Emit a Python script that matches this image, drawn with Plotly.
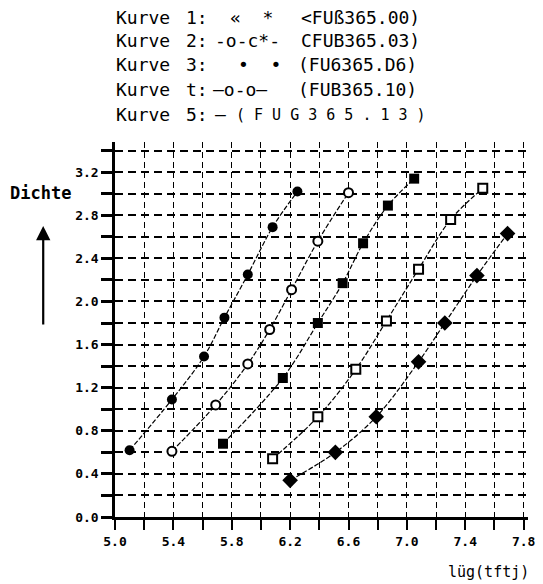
import plotly.graph_objects as go

# ---- data ----
x_k1 = [5.10, 5.39, 5.61, 5.75, 5.91, 6.08, 6.25]
y_k1 = [0.62, 1.09, 1.49, 1.85, 2.25, 2.69, 3.02]

x_k2 = [5.39, 5.69, 5.91, 6.06, 6.21, 6.39, 6.60]
y_k2 = [0.61, 1.04, 1.42, 1.74, 2.11, 2.56, 3.01]

x_k3 = [5.74, 6.15, 6.39, 6.56, 6.70, 6.87, 7.05]
y_k3 = [0.68, 1.29, 1.80, 2.17, 2.54, 2.89, 3.14]

x_k4 = [6.08, 6.39, 6.65, 6.86, 7.08, 7.30, 7.52]
y_k4 = [0.54, 0.93, 1.37, 1.82, 2.30, 2.76, 3.05]

x_k5 = [6.20, 6.51, 6.79, 7.08, 7.26, 7.48, 7.69]
y_k5 = [0.34, 0.60, 0.93, 1.44, 1.80, 2.24, 2.63]

legend_labels = ["Kurve", "Kurve", "Kurve", "Kurve", "Kurve"]
legend_nums = ["1:", "2:", "3:", "t:", "5:"]
legend_syms = ["«  *", "-o-c*-", "•  •", "—o-o—", "—"]
legend_codes = ["<FUß365.00)", "CFUB365.03)", "(FU6365.D6)", "(FUB365.10)",
                "( F U G 3 6 5 . 1 3 )"]

y_title = "Dichte"
x_title = "lüg(tftj)"

# ---- layout geometry ----
W, H = 543, 584
ML, MR, MT, MB = 115, 8, 142, 67
PW, PH = W - ML - MR, H - MT - MB


def px(xp, yp):
    return (xp - ML) / PW, (H - MB - yp) / PH


MONO = "DejaVu Sans Mono"

fig = go.Figure()

series = [
    (x_k1, y_k1, dict(symbol="circle", size=10, color="black"), "Kurve 1"),
    (x_k2, y_k2, dict(symbol="circle", size=9, color="white",
                      line=dict(color="black", width=2)), "Kurve 2"),
    (x_k3, y_k3, dict(symbol="square", size=10, color="black"), "Kurve 3"),
    (x_k4, y_k4, dict(symbol="square", size=9, color="white",
                      line=dict(color="black", width=2)), "Kurve 4"),
    (x_k5, y_k5, dict(symbol="diamond", size=12, color="black"), "Kurve 5"),
]
for xs, ys, mk, nm in series:
    fig.add_trace(go.Scatter(
        x=xs, y=ys, mode="lines+markers", name=nm,
        line=dict(color="black", width=1.2, shape="spline", dash="5px,2px"),
        marker=mk, showlegend=False))

grid_common = dict(gridcolor="black", griddash="8px,5px", gridwidth=1.5)

fig.update_xaxes(
    range=[5.0, 7.83], tick0=5.0, dtick=0.4, tickformat=".1f",
    showline=True, linecolor="black", linewidth=3,
    ticks="outside", ticklen=10, tickwidth=2, tickcolor="black",
    tickfont=dict(family=MONO, size=13, color="black", weight="bold"),
    showgrid=True, gridcolor="black", griddash="6px,4px", gridwidth=1.3,
    zeroline=False,
    minor=dict(dtick=0.2, tick0=5.0, ticks="outside", ticklen=10,
               tickwidth=2, tickcolor="black", showgrid=True,
               gridcolor="black", griddash="6px,4px", gridwidth=1.3),
)
fig.update_yaxes(
    range=[0, 3.48], tick0=0, dtick=0.4, tickformat=".1f",
    showline=True, linecolor="black", linewidth=2.5,
    ticks="outside", ticklen=11, tickwidth=3, tickcolor="black",
    tickfont=dict(family=MONO, size=13, color="black", weight="bold"),
    showgrid=True, zeroline=False, **grid_common,
    minor=dict(dtick=0.2, tick0=0, ticks="outside", ticklen=11,
               tickwidth=3, tickcolor="black", showgrid=True,
               gridcolor="black", griddash="8px,5px", gridwidth=1.5),
)

ann = []
row_y = [17, 41, 65, 90, 115]
for i in range(5):
    yy = px(0, row_y[i])[1]
    ann.append(dict(x=px(114, 0)[0], y=yy, text=legend_labels[i],
                    xanchor="left", yanchor="middle", showarrow=False,
                    font=dict(family=MONO, size=18, color="black")))
    ann.append(dict(x=px(185, 0)[0], y=yy, text=legend_nums[i],
                    xanchor="left", yanchor="middle", showarrow=False,
                    font=dict(family=MONO, size=18, color="black")))
    sym_x = [230, 215, 238, 213, 215][i]
    ann.append(dict(x=px(sym_x, 0)[0], y=yy, text=legend_syms[i],
                    xanchor="left", yanchor="middle", showarrow=False,
                    font=dict(family=MONO, size=18, color="black")))
    code_x = [302, 302, 299, 299, 236][i]
    code_size = 18 if i < 4 else 15
    ann.append(dict(x=px(code_x, 0)[0], y=yy, text=legend_codes[i],
                    xanchor="left", yanchor="middle", showarrow=False,
                    font=dict(family=MONO, size=code_size, color="black")))

# y-axis title and arrow
ax0, ay0 = px(6, 193)
ann.append(dict(x=ax0, y=ay0, text=y_title, xanchor="left", yanchor="middle",
                showarrow=False,
                font=dict(family=MONO, size=17, color="black", weight="bold")))
tx, ty = px(42, 226)
ann.append(dict(x=tx, y=ty, text="", showarrow=True, ax=0, ay=100,
                arrowhead=2, arrowsize=1.3, arrowwidth=2.2,
                arrowcolor="black", standoff=0, startstandoff=0))

# x-axis title
bx, by = px(538, 572)
ann.append(dict(x=bx, y=by, text=x_title, xanchor="right", yanchor="middle",
                showarrow=False, font=dict(family=MONO, size=15, color="black")))

for a in ann:
    a["xref"] = "paper"
    a["yref"] = "paper"

fig.update_layout(
    width=W, height=H, autosize=False,
    margin=dict(l=ML, r=MR, t=MT, b=MB),
    paper_bgcolor="white", plot_bgcolor="white",
    annotations=ann, showlegend=False,
)

fig.write_html("out.html", config={"displayModeBar": False})
